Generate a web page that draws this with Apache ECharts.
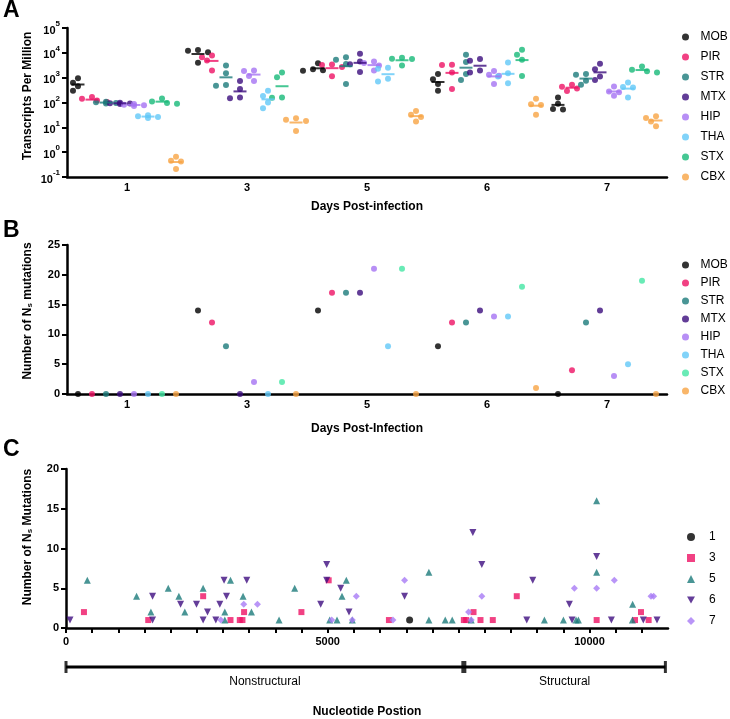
<!DOCTYPE html>
<html><head><meta charset="utf-8">
<script src="https://cdn.jsdelivr.net/npm/echarts@6/dist/echarts.min.js"></script>
<style>html,body{margin:0;padding:0;background:#fff}#c{width:730px;height:719px}</style>
</head><body><div id="c"></div><script>
// ---------- DATA ----------
const days = ['1', '3', '5', '6', '7'];
const regions = ['MOB', 'PIR', 'STR', 'MTX', 'HIP', 'THA', 'STX', 'CBX'];
// Panel A: transcripts per million, per day (4 replicates each)
const tpmMOB = [[950, 620, 450, 300], [13000, 12000, 10500, 4000], [3800, 2200, 2000, 1900], [1400, 870, 560, 295], [160, 90, 55, 52]];
const tpmPIR = [[165, 140, 120, 105], [7800, 6700, 4900, 1950], [3400, 3200, 2700, 1150], [3300, 3200, 1600, 350], [520, 430, 370, 290]];
const tpmSTR = [[108, 102, 96, 92], [3100, 1520, 510, 470], [6700, 5300, 3550, 560], [8300, 4300, 1400, 810], [1400, 1300, 750, 520]];
const tpmMTX = [[98, 94, 91, 88], [740, 350, 158, 150], [9100, 4500, 3500, 1700], [5600, 4800, 1950, 1600], [3600, 2200, 1120, 810]];
const tpmHIP = [[88, 82, 77, 72], [1960, 1850, 1170, 740], [4500, 3900, 3100, 1950], [1870, 1300, 1200, 550], [440, 280, 260, 185]];
const tpmTHA = [[31, 28, 26, 24], [300, 183, 100, 59], [2500, 2300, 900, 700], [4100, 1520, 1120, 600], [640, 420, 400, 160]];
const tpmSTX = [[145, 110, 95, 90], [1600, 1050, 160, 155], [6300, 5800, 5600, 3100], [13200, 8300, 5300, 1170], [2800, 2100, 1800, 1600]];
const tpmCBX = [[0.65, 0.45, 0.42, 0.21], [23, 20, 18, 7.2], [45, 32, 26, 17], [140, 85, 80, 32], [28, 24, 17, 11]];
// Panel B: number of Ns mutations per day
const nsMOB = [0, 14, 14, 8, 0];
const nsPIR = [0, 12, 17, 12, 4];
const nsSTR = [0, 8, 17, 12, 12];
const nsMTX = [0, 0, 17, 14, 14];
const nsHIP = [0, 2, 21, 13, 3];
const nsTHA = [0, 0, 8, 13, 5];
const nsSTX = [0, 2, 21, 18, 19];
const nsCBX = [0, 0, 0, 1, 0];
// Panel C: [nucleotide position, number of Ns mutations] per day
const posDay1 = [[6564, 1]];
const posDay3 = [[343, 2], [1571, 1], [2620, 4], [3142, 1], [3320, 1], [3371, 1], [3402, 2], [4497, 2], [5018, 6], [6169, 1], [7600, 1], [7645, 1], [7785, 2], [7918, 1], [8153, 1], [8611, 4], [10137, 1], [10870, 1], [10984, 2], [11130, 1]];
const posDay5 = [[407, 6], [1348, 4], [1622, 2], [1953, 5], [2156, 4], [2270, 2], [2620, 5], [3034, 1], [3034, 2], [3142, 6], [3383, 4], [3543, 2], [4070, 1], [4369, 5], [5037, 1], [5177, 1], [5272, 4], [5355, 6], [5469, 1], [6932, 7], [6932, 1], [7245, 1], [7378, 1], [7740, 1], [9139, 1], [9502, 1], [9744, 1], [9788, 1], [10137, 16], [10137, 7], [10824, 3], [10820, 1]];
const posDay6 = [[76, 1], [1654, 1], [1654, 4], [2188, 3], [2493, 3], [2620, 1], [2703, 2], [2862, 1], [2938, 3], [3020, 6], [3066, 4], [3453, 6], [4865, 3], [4980, 8], [4980, 6], [5247, 5], [5406, 2], [6468, 4], [7772, 12], [7943, 8], [8802, 1], [8916, 6], [9616, 3], [9667, 1], [10137, 9], [10418, 1], [11028, 1], [11290, 1]];
const posDay7 = [[2957, 1], [3396, 3], [3657, 3], [5075, 1], [5469, 1], [5546, 4], [6245, 1], [6468, 6], [7690, 2], [7740, 1], [7943, 4], [9712, 5], [10137, 5], [10475, 6], [11175, 4], [11225, 4]];
const dayNamesC = ['1', '3', '5', '6', '7'];
// Genome regions (nucleotide coordinates)
const genomeRegions = ['Nonstructural', 'Structural'];
const regionStart = [0, 7600];
const regionEnd = [7600, 11450];
// Axis titles
const yTitleA = 'Transcripts Per Million';
const yTitleB = 'Number of N{sub|s} mutations';
const yTitleC = 'Number of N{sub|s} Mutations';

// ---------- STYLE ----------
const FONT = '"Liberation Sans", Arial, Helvetica, sans-serif';
const colorsA = ['#000000', '#ee1164', '#1b7b7b', '#3b0d7d', '#a573f2', '#62c8f7', '#17b978', '#f7a444'];
const colorsB = ['#000000', '#ee1164', '#1b7b7b', '#3b0d7d', '#a573f2', '#62c8f7', '#44e6a4', '#f7a444'];
const colorsC = ['#000000', '#ee1164', '#1b7b7b', '#3d0d80', '#a87af5'];
const symbolsC = ['circle', 'rect', 'triangle', 'path://M0,0 L10,0 L5,9 Z', 'diamond'];
const tpm = [tpmMOB, tpmPIR, tpmSTR, tpmMTX, tpmHIP, tpmTHA, tpmSTX, tpmCBX];
const ns = [nsMOB, nsPIR, nsSTR, nsMTX, nsHIP, nsTHA, nsSTX, nsCBX];
const posC = [posDay1, posDay3, posDay5, posDay6, posDay7];

const SPREAD = 0.1167;
function xPos(gi, si) { return gi + 0.5 + (si - 3.5) * SPREAD; }
function swarm(vals) {
  const PX = 24.75, D = 6;
  const items = vals.map((v, i) => ({ i, y: Math.log10(v) * PX })).sort((a, b) => b.y - a.y);
  const placed = [], off = vals.map(() => 0);
  const cands = [0, -5, 5, -10, 10, -15, 15];
  for (const it of items) {
    for (const c of cands) {
      if (placed.every(p => Math.hypot(p.x - c, p.y - it.y) >= D)) { placed.push({ x: c, y: it.y }); off[it.i] = c; break; }
    }
  }
  return off;
}
function geoMean(vals) { return Math.pow(10, vals.reduce((s, v) => s + Math.log10(v), 0) / vals.length); }

const axLine = { lineStyle: { color: '#000', width: 2.5 } };
const axTick = { length: 5, lineStyle: { color: '#000', width: 2 } };
const axLabel = { color: '#000', fontWeight: 'bold', fontSize: 11, fontFamily: FONT };
const nameStyle = { color: '#000', fontWeight: 'bold', fontSize: 12, fontFamily: FONT };

const series = [];
regions.forEach((r, si) => {
  const pts = [];
  tpm[si].forEach((vals, gi) => {
    const off = swarm(vals);
    vals.forEach((v, k) => pts.push({ value: [xPos(gi, si), v], symbolOffset: [off[k], 0] }));
  });
  series.push({ type: 'scatter', name: r, xAxisIndex: 1, yAxisIndex: 0, symbol: 'circle', symbolSize: 6,
    itemStyle: { color: colorsA[si] }, data: pts, z: 3 });
  series.push({ type: 'scatter', name: 'mean ' + r, xAxisIndex: 1, yAxisIndex: 0, symbol: 'rect', symbolSize: [13, 2],
    itemStyle: { color: colorsA[si] }, data: tpm[si].map((vals, gi) => [xPos(gi, si), geoMean(vals)]), z: 4 });
});
regions.forEach((r, si) => {
  series.push({ type: 'scatter', name: 'B:' + r, xAxisIndex: 3, yAxisIndex: 1, symbol: 'circle', symbolSize: 6,
    itemStyle: { color: colorsB[si] }, data: ns[si].map((v, gi) => [xPos(gi, si), v]), z: 5 });
});
dayNamesC.forEach((d, di) => {
  series.push({ type: 'scatter', name: d, xAxisIndex: 4, yAxisIndex: 2, symbol: symbolsC[di],
    symbolSize: di === 1 ? 6 : 7, itemStyle: { color: colorsC[di] }, data: posC[di], z: 5 });
});
// genome region bracket
series.push({ type: 'line', name: 'bracket', xAxisIndex: 5, yAxisIndex: 3, symbol: 'none', silent: true,
  lineStyle: { color: '#000', width: 3 }, data: [[regionStart[0], 0.5], [regionEnd[regionEnd.length - 1], 0.5]] });
series.push({ type: 'scatter', name: 'caps', xAxisIndex: 5, yAxisIndex: 3, symbol: 'rect', silent: true,
  itemStyle: { color: '#000' },
  data: regionStart.concat([regionEnd[regionEnd.length - 1]]).map((p, i) => ({ value: [p, 0.5], symbolSize: (i > 0 && i < regionStart.length) ? [5, 12] : [3, 12] })) });

const option = {
  animation: false,
  backgroundColor: '#fff',
  textStyle: { fontFamily: FONT },
  grid: [
    { left: 67, right: 63, top: 28, height: 149 },
    { left: 67, right: 63, top: 245, height: 149 },
    { left: 66, right: 62, top: 469, height: 160 },
    { left: 66, right: 62, top: 660, height: 14 }
  ],
  xAxis: [
    { type: 'category', gridIndex: 0, data: days, boundaryGap: true, axisLine: axLine,
      axisTick: Object.assign({ alignWithLabel: true }, axTick), axisLabel: Object.assign({ margin: 5 }, axLabel),
      name: 'Days Post-infection', nameLocation: 'middle', nameGap: 24, nameTextStyle: nameStyle },
    { type: 'value', gridIndex: 0, min: 0, max: 5, show: false },
    { type: 'category', gridIndex: 1, data: days, boundaryGap: true, axisLine: axLine,
      axisTick: Object.assign({ alignWithLabel: true }, axTick), axisLabel: Object.assign({ margin: 5 }, axLabel),
      name: 'Days Post-Infection', nameLocation: 'middle', nameGap: 29, nameTextStyle: nameStyle },
    { type: 'value', gridIndex: 1, min: 0, max: 5, show: false },
    { type: 'value', gridIndex: 2, min: 0, max: 11500, interval: 500, axisLine: axLine, axisTick: axTick,
      splitLine: { show: false },
      axisLabel: Object.assign({ margin: 8, interval: 0, showMaxLabel: false, formatter: v => (v % 5000 === 0 ? String(v) : '') }, axLabel),
      name: 'Nucleotide Postion', nameLocation: 'middle', nameGap: 78, nameTextStyle: nameStyle },
    { type: 'value', gridIndex: 3, min: 0, max: 11500, show: false }
  ],
  yAxis: [
    { type: 'log', gridIndex: 0, logBase: 10, min: 0.1, max: 100000, interval: 1, splitLine: { show: false },
      axisLine: axLine, axisTick: axTick,
      axisLabel: Object.assign({ margin: 7, formatter: v => '{b|10}{s|' + Math.round(Math.log10(v)) + '}',
        rich: { b: { fontSize: 11, fontWeight: 'bold', fontFamily: FONT, color: '#000', lineHeight: 16, verticalAlign: 'bottom' },
                s: { fontSize: 8, fontWeight: 'bold', fontFamily: FONT, color: '#000', lineHeight: 16, verticalAlign: 'top' } } }, axLabel) },
    { type: 'value', gridIndex: 1, min: 0, max: 25, interval: 5, splitLine: { show: false },
      axisLine: axLine, axisTick: axTick, axisLabel: Object.assign({ margin: 7 }, axLabel) },
    { type: 'value', gridIndex: 2, min: 0, max: 20, interval: 5, splitLine: { show: false },
      axisLine: axLine, axisTick: axTick, axisLabel: Object.assign({ margin: 7 }, axLabel) },
    { type: 'value', gridIndex: 3, min: 0, max: 1, show: false }
  ],
  legend: [
    { data: regions, orient: 'vertical', left: 677, top: 25, itemWidth: 20, itemHeight: 7, itemGap: 6,
      textStyle: { fontSize: 12, color: '#000', fontFamily: FONT, lineHeight: 14 } },
    { data: regions.map(r => 'B:' + r), formatter: n => n.slice(2), orient: 'vertical', left: 677, top: 253,
      itemWidth: 20, itemHeight: 7, itemGap: 4, textStyle: { fontSize: 12, color: '#000', fontFamily: FONT, lineHeight: 14 } },
    { data: dayNamesC, orient: 'vertical', left: 682, top: 525, itemWidth: 8, itemHeight: 8, itemGap: 7,
      textStyle: { fontSize: 12, color: '#000', fontFamily: FONT, lineHeight: 14, padding: [0, 0, 0, 9] } }
  ],
  series: series
};
const chart = echarts.init(document.getElementById('c'));
chart.setOption(option);

const subRich = { sub: { font: 'bold 8px ' + FONT, fill: '#000', verticalAlign: 'bottom', lineHeight: 10, padding: [6, 0, 0, 0] } };
function yTitle(text, cy) {
  return { type: 'text', x: 27.5, y: cy, rotation: Math.PI / 2,
    style: { text: text, font: 'bold 12px ' + FONT, fill: '#000', align: 'center', verticalAlign: 'middle', rich: subRich } };
}
const graphics = [
  { type: 'text', left: 3, top: -1, style: { text: 'A', font: 'bold 23px ' + FONT, fill: '#000' } },
  { type: 'text', left: 3, top: 219, style: { text: 'B', font: 'bold 23px ' + FONT, fill: '#000' } },
  { type: 'text', left: 3, top: 438, style: { text: 'C', font: 'bold 23px ' + FONT, fill: '#000' } },
  yTitle(yTitleA, 96), yTitle(yTitleB, 311), yTitle(yTitleC, 537)
];
// region labels under the bracket, placed through the bracket axis scale
genomeRegions.forEach((n, i) => {
  const p = chart.convertToPixel({ xAxisIndex: 5, yAxisIndex: 3 }, [(regionStart[i] + regionEnd[i]) / 2, 0.5]);
  graphics.push({ type: 'text', x: p[0], y: p[1] + 9, style: { text: n, font: '12px ' + FONT, fill: '#000', align: 'center', verticalAlign: 'top' } });
});
chart.setOption({ graphic: graphics });
</script></body></html>
